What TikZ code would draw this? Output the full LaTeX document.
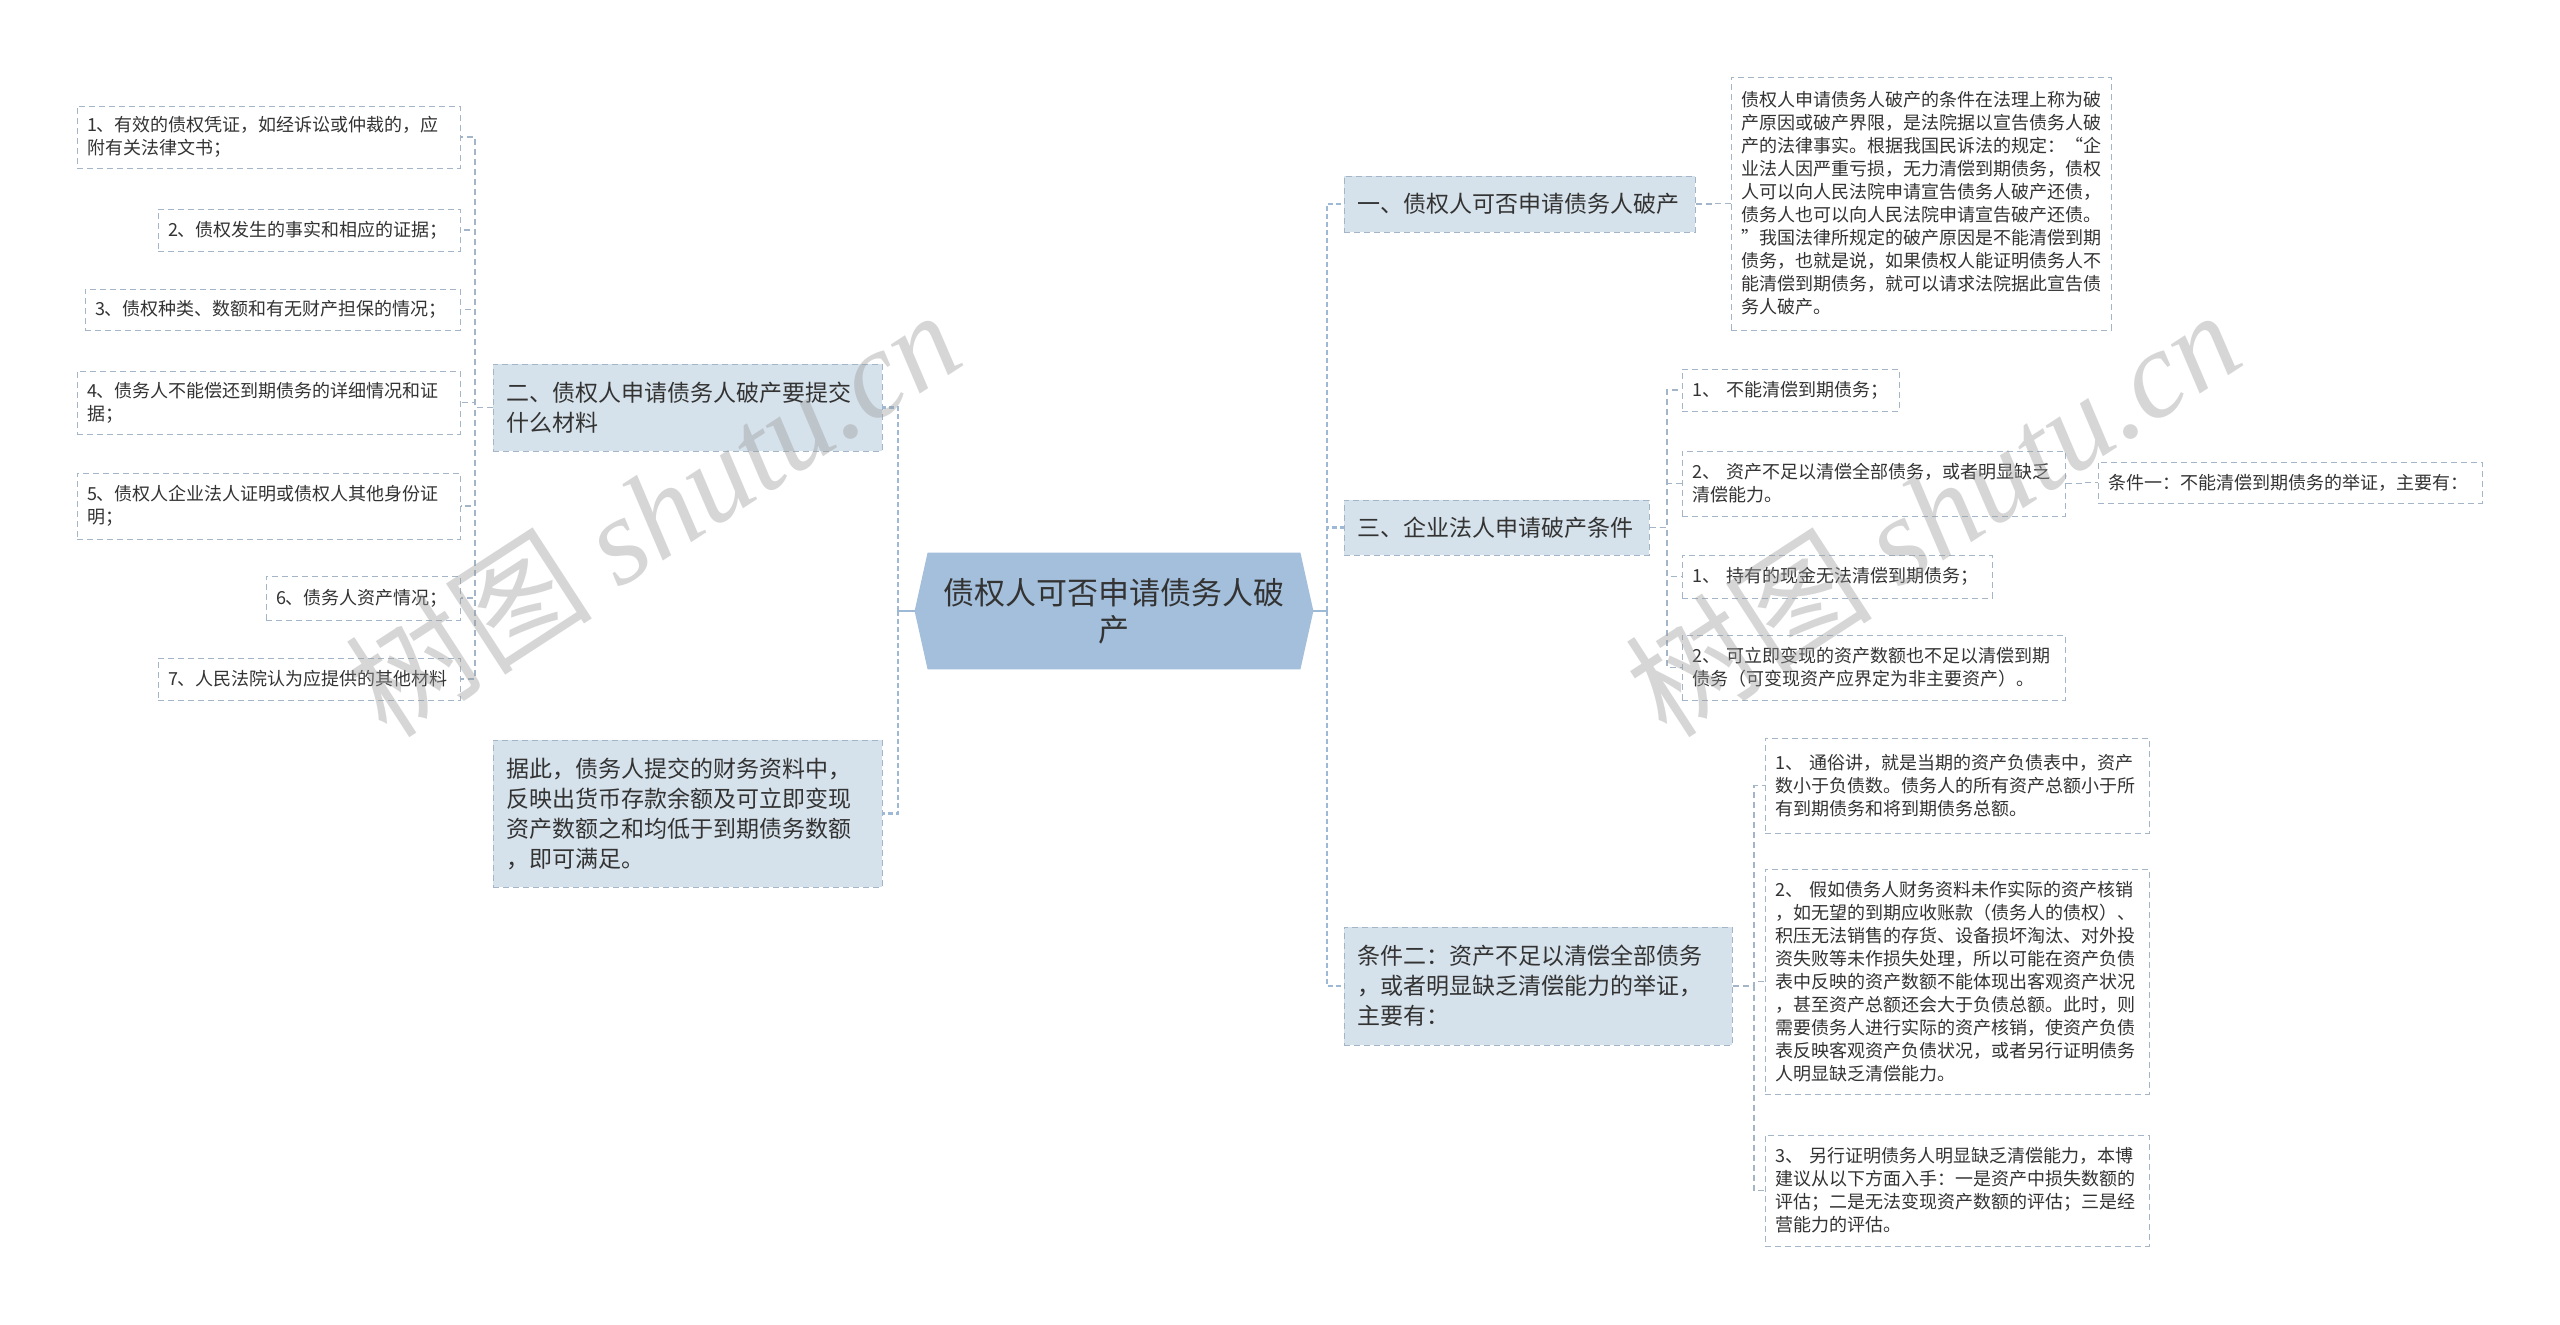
\documentclass[tikz,border=0pt]{standalone}
\usepackage{fontspec}
\setmainfont{Noto Sans CJK SC}
\newfontfamily\wmlatin{Liberation Serif}
\usetikzlibrary{backgrounds}
\definecolor{textC}{HTML}{333333}
\definecolor{lineC}{HTML}{A3B5C6}
\definecolor{mainC}{HTML}{9DB9D5}
\definecolor{lvfill}{HTML}{D6E2EB}
\definecolor{rootfill}{HTML}{A3BFDB}
\definecolor{wmC}{HTML}{9A9A9A}
\tikzset{
  leaf/.style={draw=lineC, line width=0.5pt, dash pattern=on 3pt off 2pt, fill=white,
    inner xsep=5pt, inner ysep=0pt, text=textC, align=left,
    font=\fontsize{9pt}{11.5pt}\selectfont},
  lvone/.style={draw=lineC, line width=0.5pt, dash pattern=on 3pt off 2pt, fill=lvfill,
    inner xsep=6.5pt, inner ysep=0pt, text=textC, align=left,
    font=\fontsize{11.5pt}{15pt}\selectfont},
  rootnode/.style={inner sep=0pt, text=textC, align=center,
    minimum width=199pt, minimum height=58pt,
    font=\fontsize{15.5pt}{18.5pt}\selectfont},
  conn/.style={draw=lineC, line width=0.6pt, dash pattern=on 3pt off 2pt},
  mainconn/.style={draw=mainC, line width=1.3pt, dash pattern=on 2.5pt off 1.5pt},
  mainsolid/.style={draw=mainC, line width=1.3pt},
  wm/.style={text=wmC, text opacity=0.4, inner sep=0pt,
    font=\fontsize{62pt}{62pt}\selectfont},
}
\begin{document}
\begin{tikzpicture}[x=1pt, y=-1pt]
\useasboundingbox (0,0) rectangle (1280,662);

% ---------- root ----------
\node[rootnode] (root) at (557,305.5) {债权人可否申请债务人破\\产};
\begin{scope}[on background layer]
  \fill[white] (0,0) rectangle (1280,662);
  \fill[rootfill] (root.west) -- ([xshift=6.5pt]root.north west) -- ([xshift=-6.5pt]root.north east)
    -- (root.east) -- ([xshift=-6.5pt]root.south east) -- ([xshift=6.5pt]root.south west) -- cycle;
\end{scope}

% ---------- spine coordinates ----------
\coordinate (lsp) at (449,0);
\coordinate (rsp) at (663.5,0);
\coordinate (lsub) at (237.5,0);
\coordinate (r1sub) at (856.5,0);
\coordinate (r3sub) at (833.5,0);
\coordinate (rbsub) at (1041,0);
\coordinate (r4sub) at (877,0);

% ---------- left level one ----------
\node[lvone, text width=181.5pt, minimum height=43.5pt] (two) at (343.75,203.75)
  {二、债权人申请债务人破产要提交\\什么材料};
\node[lvone, text width=181.5pt, minimum height=73.5pt] (jc) at (343.75,406.75)
  {据此，债务人提交的财务资料中，\\反映出货币存款余额及可立即变现\\资产数额之和均低于到期债务数额\\，即可满足。};

% ---------- left leaves ----------
\node[leaf, text width=181.5pt, minimum height=31pt] (l1) at (134.25,68.5)
  {1、有效的债权凭证，如经诉讼或仲裁的，应\\附有关法律文书；};
\node[leaf, text width=141pt, minimum height=21pt] (l2) at (154.5,115)
  {2、债权发生的事实和相应的证据；};
\node[leaf, text width=177.5pt, minimum height=20.5pt] (l3) at (136.25,154.75)
  {3、债权种类、数额和有无财产担保的情况；};
\node[leaf, text width=181.5pt, minimum height=31.5pt] (l4) at (134.25,201.25)
  {4、债务人不能偿还到期债务的详细情况和证\\据；};
\node[leaf, text width=181.5pt, minimum height=33pt] (l5) at (134.25,253)
  {5、债权人企业法人证明或债权人其他身份证\\明；};
\node[leaf, text width=87pt, minimum height=22pt] (l6) at (181.5,299)
  {6、债务人资产情况；};
\node[leaf, text width=141pt, minimum height=21pt] (l7) at (154.5,339.5)
  {7、人民法院认为应提供的其他材料};

% ---------- right level one ----------
\node[lvone, text width=162.5pt, minimum height=28pt] (one) at (759.75,102)
  {一、债权人可否申请债务人破产};
\node[lvone, text width=139.5pt, minimum height=27.5pt] (three) at (748.25,263.75)
  {三、企业法人申请破产条件};
\node[lvone, text width=181pt, minimum height=59pt] (cond2) at (769,493)
  {条件二：资产不足以清偿全部债务\\，或者明显缺乏清偿能力的举证，\\主要有：};

% ---------- right leaves ----------
\node[leaf, text width=180pt, minimum height=126.5pt] (t1) at (960.5,101.75)
  {债权人申请债务人破产的条件在法理上称为破\\产原因或破产界限，是法院据以宣告债务人破\\产的法律事实。根据我国民诉法的规定：“企\\业法人因严重亏损，无力清偿到期债务，债权\\人可以向人民法院申请宣告债务人破产还债，\\债务人也可以向人民法院申请宣告破产还债。\\”我国法律所规定的破产原因是不能清偿到期\\债务，也就是说，如果债权人能证明债务人不\\能清偿到期债务，就可以请求法院据此宣告债\\务人破产。};
\node[leaf, text width=98.5pt, minimum height=21pt] (ra) at (895.25,195)
  {1、~不能清偿到期债务；};
\node[leaf, text width=181.5pt, minimum height=32.5pt] (rb) at (936.75,241.75)
  {2、~资产不足以清偿全部债务，或者明显缺乏\\清偿能力。};
\node[leaf, text width=182pt, minimum height=20.5pt] (rc) at (1145,241.25)
  {条件一：不能清偿到期债务的举证，主要有：};
\node[leaf, text width=145pt, minimum height=21.5pt] (rd) at (918.5,288.25)
  {1、~持有的现金无法清偿到期债务；};
\node[leaf, text width=181.5pt, minimum height=32.5pt] (re) at (936.75,333.75)
  {2、~可立即变现的资产数额也不足以清偿到期\\债务（可变现资产应界定为非主要资产）。};
\node[leaf, text width=182pt, minimum height=47.5pt] (rf) at (978.5,392.75)
  {1、~通俗讲，就是当期的资产负债表中，资产\\数小于负债数。债务人的所有资产总额小于所\\有到期债务和将到期债务总额。};
\node[leaf, text width=182pt, minimum height=112.5pt] (rg) at (978.5,490.75)
  {2、~假如债务人财务资料未作实际的资产核销\\，如无望的到期应收账款（债务人的债权）、\\积压无法销售的存货、设备损坏淘汰、对外投\\资失败等未作损失处理，所以可能在资产负债\\表中反映的资产数额不能体现出客观资产状况\\，甚至资产总额还会大于负债总额。此时，则\\需要债务人进行实际的资产核销，使资产负债\\表反映客观资产负债状况，或者另行证明债务\\人明显缺乏清偿能力。};
\node[leaf, text width=182pt, minimum height=55.5pt] (rh) at (978.5,595.25)
  {3、~另行证明债务人明显缺乏清偿能力，本博\\建议从以下方面入手：一是资产中损失数额的\\评估；二是无法变现资产数额的评估；三是经\\营能力的评估。};

% ---------- main connectors ----------
\draw[mainsolid] (root.west) -- (root.west -| lsp);
\draw[mainsolid] (root.east) -- (root.east -| rsp);
\draw[mainconn] (root.west -| lsp) |- (two.east);
\draw[mainconn] (root.west -| lsp) |- (jc.east);
\draw[mainconn] (root.east -| rsp) |- (one.west);
\draw[mainconn] (root.east -| rsp) |- (three.west);
\draw[mainconn] (root.east -| rsp) |- (cond2.west);

% ---------- sub connectors ----------
\foreach \n in {l1,l2,l3,l4,l5,l6,l7}
  \draw[conn] (two.west) -- (two.west -| lsub) |- (\n.east);
\draw[conn] (one.east) -- (one.east -| r1sub) |- (t1.west);
\foreach \n in {ra,rb,rd,re}
  \draw[conn] (three.east) -- (three.east -| r3sub) |- (\n.west);
\draw[conn] (rb.east) -- (rb.east -| rbsub) |- (rc.west);
\foreach \n in {rf,rg,rh}
  \draw[conn] (cond2.east) -- (cond2.east -| r4sub) |- (\n.west);

% ---------- watermark ----------
\node[wm, rotate=33] (wmL) at (326,256) {树图 {\wmlatin\itshape shutu.cn}};
\node[wm, rotate=33] (wmR) at (966,256) {树图 {\wmlatin\itshape shutu.cn}};
\end{tikzpicture}
\end{document}
